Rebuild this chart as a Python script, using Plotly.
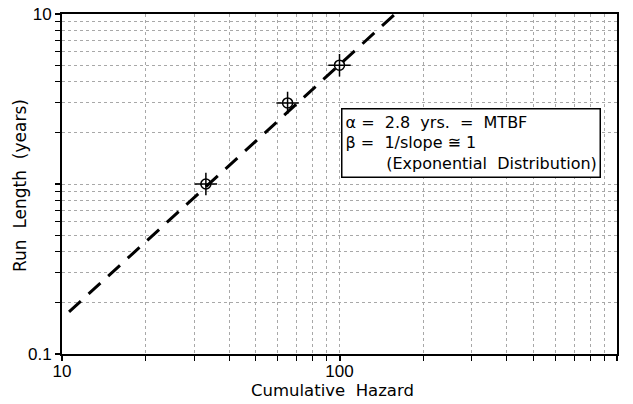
import plotly.graph_objects as go

# Data
hazard = [33, 65, 100]
run_length = [1.0, 3.0, 5.0]
fit_x = [10.6, 158]
fit_y = [0.177, 9.95]

x_ticks = [10, 100, 1000]
x_ticktext = ["10", "100", "1000"]
y_ticks = [0.1, 1, 10]
y_ticktext = ["0.1", "", "10"]

x_minor = [m * d for d in (10, 100) for m in range(2, 10)]
y_minor = [m * d for d in (0.1, 1) for m in range(2, 10)]

NB = "\u00a0"
box_lines = [
    f"α{NB}={NB}{NB}2.8{NB}{NB}yrs.{NB}{NB}={NB}{NB}MTBF",
    f"β{NB}={NB}{NB}1/slope{NB}≅{NB}1",
    NB * 8 + f"(Exponential{NB}{NB}Distribution)",
]
x_title = f"Cumulative{NB}{NB}Hazard"
y_title = f"Run{NB}{NB}Length{NB}{NB}(years)"

fig = go.Figure()
fig.add_trace(go.Scatter(
    x=fit_x, y=fit_y, mode="lines",
    line=dict(color="black", width=3, dash="16px,10.5px"),
    showlegend=False, hoverinfo="skip"))
fig.add_trace(go.Scatter(
    x=hazard, y=run_length, mode="markers",
    marker=dict(symbol="cross-thin-open", size=16, color="black",
                line=dict(color="black", width=1.5)),
    showlegend=False))
fig.add_trace(go.Scatter(
    x=hazard, y=run_length, mode="markers",
    marker=dict(symbol="circle-open", size=10, color="black",
                line=dict(color="black", width=1.5)),
    showlegend=False))

grid_col = "#a8a8a8"
axis_common = dict(
    type="log", showline=True, linecolor="black", linewidth=2, mirror=True,
    ticks="outside", ticklen=5, tickwidth=1.5, tickcolor="black",
    showgrid=True, gridcolor=grid_col, gridwidth=1, griddash="dot",
    tickmode="array", zeroline=False, automargin=False,
    tickfont=dict(family="Liberation Sans, Arial, sans-serif", size=17, color="black"),
)
title_font = dict(family="DejaVu Sans, sans-serif", size=16.5, color="black")

fig.update_layout(
    width=633, height=404,
    margin=dict(l=62, r=16, t=14, b=50),
    paper_bgcolor="white", plot_bgcolor="white",
    xaxis=dict(
        **axis_common, range=[1, 3], tickvals=x_ticks, ticktext=x_ticktext,
        ticklabelstandoff=-4,
        minor=dict(tickmode="array", tickvals=x_minor, ticks="outside", ticklen=5,
                   tickwidth=1.2, tickcolor="black", showgrid=True,
                   gridcolor=grid_col, gridwidth=1, griddash="dot"),
    ),
    yaxis=dict(
        **axis_common, range=[-1, 1], tickvals=y_ticks, ticktext=y_ticktext,
        minor=dict(tickmode="array", tickvals=y_minor, ticks="outside", ticklen=5,
                   tickwidth=1.2, tickcolor="black", showgrid=True,
                   gridcolor=grid_col, gridwidth=1, griddash="dot"),
    ),
    annotations=[
        dict(xref="paper", yref="paper", x=0.503, y=0.724, xanchor="left", yanchor="top",
             text="<br>".join(box_lines), align="left", showarrow=False,
             font=dict(family="DejaVu Sans, sans-serif", size=16, color="black"),
             bgcolor="white", bordercolor="black", borderwidth=1.5, borderpad=3),
        dict(xref="paper", yref="paper", x=0.4865, y=-0.106, xanchor="center",
             yanchor="middle", text=x_title, showarrow=False, font=title_font),
        dict(xref="paper", yref="paper", x=-0.0757, y=0.497, xanchor="center",
             yanchor="middle", text=y_title, showarrow=False, textangle=-90,
             font=dict(family="DejaVu Sans, sans-serif", size=17, color="black")),
    ],
)

fig.write_html("out.html")
